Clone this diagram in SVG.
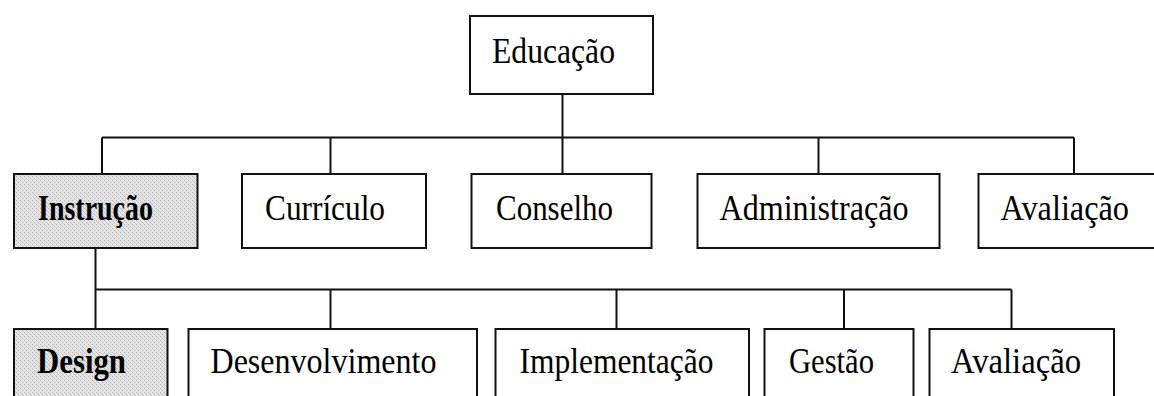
<svg xmlns="http://www.w3.org/2000/svg" width="1154" height="396" viewBox="0 0 1154 396">
<style>
.box{fill:#fff;stroke:#111;stroke-width:2}
.hl{fill:url(#dots);stroke:#111;stroke-width:2}
.t{font-family:"Liberation Serif","Times New Roman",serif;font-size:35px;fill:#000}
.b{font-weight:bold}
.c{fill:none;stroke:#111;stroke-width:2}
</style>
<defs>
<pattern id="dots" width="4" height="4" patternUnits="userSpaceOnUse">
<rect width="4" height="4" fill="#e4e4e4"/>
<rect x="0" y="0" width="1" height="1" fill="#b8b8b8"/>
<rect x="2" y="2" width="1" height="1" fill="#b8b8b8"/>
<rect x="1" y="1" width="1" height="1" fill="#d0d0d0"/>
<rect x="3" y="3" width="1" height="1" fill="#d0d0d0"/>
</pattern>
</defs>
<rect width="1154" height="396" fill="#fff"/>
<g id="connectors">
<path class="c" d="M562.5,94V137.5M102,137.5H1074M102,137.5V174M330.5,137.5V174M562.5,137.5V174M818.5,137.5V174M1074,137.5V174"/>
<path class="c" d="M95.5,248V329M95.5,289.5H1011.5M330.5,289.5V329M616.5,289.5V329M844,289.5V329M1011.5,289.5V329"/>
</g>
<g id="n-educacao"><rect class="box" x="470" y="16" width="183" height="78"/><text class="t" x="492" y="63" textLength="123" lengthAdjust="spacingAndGlyphs">Educação</text></g>
<g id="n-instrucao"><rect class="hl" x="14" y="174" width="183.5" height="74"/><text class="t b" x="38" y="220" textLength="115" lengthAdjust="spacingAndGlyphs">Instrução</text></g>
<g id="n-curriculo"><rect class="box" x="242" y="174" width="184" height="74"/><text class="t" x="265" y="220" textLength="120" lengthAdjust="spacingAndGlyphs">Currículo</text></g>
<g id="n-conselho"><rect class="box" x="471.5" y="174" width="180" height="74"/><text class="t" x="496" y="220" textLength="117" lengthAdjust="spacingAndGlyphs">Conselho</text></g>
<g id="n-administracao"><rect class="box" x="697.5" y="174" width="242" height="74"/><text class="t" x="719.5" y="220" textLength="189" lengthAdjust="spacingAndGlyphs">Administração</text></g>
<g id="n-avaliacao1"><rect class="box" x="978.5" y="174" width="185" height="74"/><text class="t" x="1000.5" y="220" textLength="128.5" lengthAdjust="spacingAndGlyphs">Avaliação</text></g>
<g id="n-design"><rect class="hl" x="14" y="329" width="153.5" height="80"/><text class="t b" x="37" y="373" textLength="89" lengthAdjust="spacingAndGlyphs">Design</text></g>
<g id="n-desenvolvimento"><rect class="box" x="188.5" y="329" width="288.5" height="80"/><text class="t" x="210.5" y="373" textLength="226" lengthAdjust="spacingAndGlyphs">Desenvolvimento</text></g>
<g id="n-implementacao"><rect class="box" x="495.5" y="329" width="253.5" height="80"/><text class="t" x="519.5" y="373" textLength="194" lengthAdjust="spacingAndGlyphs">Implementação</text></g>
<g id="n-gestao"><rect class="box" x="764.5" y="329" width="149" height="80"/><text class="t" x="789" y="373" textLength="85" lengthAdjust="spacingAndGlyphs">Gestão</text></g>
<g id="n-avaliacao2"><rect class="box" x="929.5" y="329" width="184.5" height="80"/><text class="t" x="951" y="373" textLength="130" lengthAdjust="spacingAndGlyphs">Avaliação</text></g>
</svg>
